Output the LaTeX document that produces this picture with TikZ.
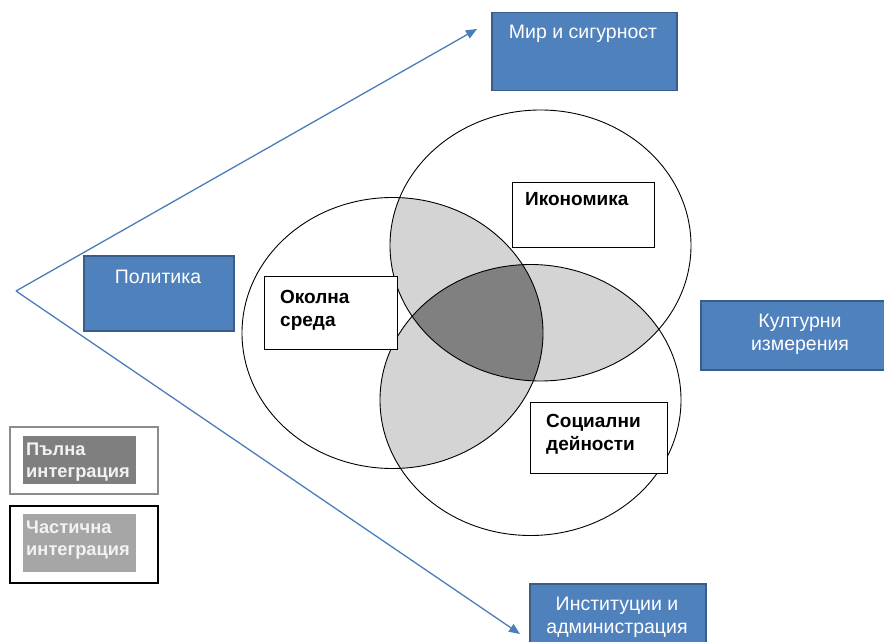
\documentclass[tikz,border=0pt]{standalone}
\usepackage{fontspec}
\setmainfont{Liberation Sans}
\usetikzlibrary{arrows.meta}
\definecolor{boxblue}{HTML}{4F81BD}
\definecolor{boxedge}{HTML}{385D8A}
\definecolor{arrowblue}{HTML}{4A7EBB}
\definecolor{lightshade}{HTML}{D4D4D4}
\definecolor{darkshade}{HTML}{808080}
\definecolor{legdark}{HTML}{7F7F7F}
\definecolor{leglight}{HTML}{A6A6A6}
\definecolor{legedge}{HTML}{8C8C8C}
\definecolor{legtext}{HTML}{F2F2F2}
\begin{document}
\begin{tikzpicture}[x=1pt,y=-1pt,
  bluebox/.style={draw=boxedge, fill=boxblue, line width=1.5pt, inner sep=0pt, anchor=north west},
  whitebox/.style={draw=black, fill=white, line width=1pt, inner sep=0pt, anchor=north west},
  legbox/.style={fill=white, line width=1.5pt, inner sep=0pt, anchor=north west},
  legfill/.style={draw=none, inner sep=0pt, anchor=north west},
  bluetext/.style={text=white, font=\fontsize{19.5}{23}\selectfont, align=center, inner sep=0pt, anchor=base},
  blacktext/.style={text=black, font=\fontsize{19}{22.5}\selectfont\bfseries, align=left, inner sep=0pt, anchor=base west},
  legtxt/.style={text=legtext, font=\fontsize{18.3}{22}\selectfont\bfseries, align=left, inner sep=0pt, anchor=base west},
  venn/.style={draw=black, line width=0.9pt},
  arrowline/.style={draw=arrowblue, line width=1.3pt, -{Triangle[length=11pt,width=9pt]}}
]
\useasboundingbox (0,0) rectangle (884,642);

% ellipse centres
\coordinate (cEnv) at (392.5,333);
\coordinate (cEco) at (540.5,245.5);
\coordinate (cSoc) at (530.5,400);
\def\rx{150.5}
\def\ry{135.5}

% pairwise overlaps
\begin{scope}
  \clip (cEnv) ellipse [x radius=\rx, y radius=\ry];
  \fill[lightshade] (cEco) ellipse [x radius=\rx, y radius=\ry];
  \fill[lightshade] (cSoc) ellipse [x radius=\rx, y radius=\ry];
\end{scope}
\begin{scope}
  \clip (cEco) ellipse [x radius=\rx, y radius=\ry];
  \fill[lightshade] (cSoc) ellipse [x radius=\rx, y radius=\ry];
\end{scope}
% triple overlap
\begin{scope}
  \clip (cEnv) ellipse [x radius=\rx, y radius=\ry];
  \clip (cEco) ellipse [x radius=\rx, y radius=\ry];
  \fill[darkshade] (cSoc) ellipse [x radius=\rx, y radius=\ry];
\end{scope}
% outlines
\draw[venn] (cEnv) ellipse [x radius=\rx, y radius=\ry];
\draw[venn] (cEco) ellipse [x radius=\rx, y radius=\ry];
\draw[venn] (cSoc) ellipse [x radius=\rx, y radius=\ry];

% arrows
\coordinate (apex) at (16,291);
\coordinate (tipUp) at (477,29);
\coordinate (tipDown) at (520,634);
\draw[arrowline] (apex) -- (tipUp);
\draw[arrowline] (apex) -- (tipDown);

% blue boxes
\node[bluebox, minimum width=185pt, minimum height=78pt] (mir) at (491,12) {};
\node[bluetext] (mirT) at (583,39) {Мир и сигурност};
\node[bluebox, minimum width=150pt, minimum height=75pt] (pol) at (83,255) {};
\node[bluetext] (polT) at (158,283) {Политика};
\node[bluebox, minimum width=200pt, minimum height=69pt] (kul) at (700,300) {};
\node[bluetext] (kulT) at (800,350) {Културни\\измерения};
\node[bluebox, minimum width=176pt, minimum height=80pt] (inst) at (529,583) {};
\node[bluetext] (instT) at (617,633) {Институции и\\администрация};

% white boxes
\node[whitebox, minimum width=133pt, minimum height=73pt] (env) at (264,276) {};
\node[blacktext] (envT) at (280,326) {Околна\\среда};
\node[whitebox, minimum width=142pt, minimum height=65pt] (eco) at (512,182) {};
\node[blacktext] (ecoT) at (525,205) {Икономика};
\node[whitebox, minimum width=137pt, minimum height=71pt] (soc) at (530,402) {};
\node[blacktext] (socT) at (546,450) {Социални\\дейности};

% legend
\node[legbox, draw=legedge, minimum width=148pt, minimum height=67pt] (leg1) at (9,426) {};
\node[legfill, fill=legdark, minimum width=113pt, minimum height=48pt] (leg1f) at (23,436) {};
\node[legtxt] (leg1T) at (26,477) {Пълна\\интеграция};
\node[legbox, draw=black, minimum width=148pt, minimum height=77pt] (leg2) at (9,505) {};
\node[legfill, fill=leglight, minimum width=113pt, minimum height=58pt] (leg2f) at (23,514) {};
\node[legtxt] (leg2T) at (26,555) {Частична\\интеграция};
\end{tikzpicture}
\end{document}
